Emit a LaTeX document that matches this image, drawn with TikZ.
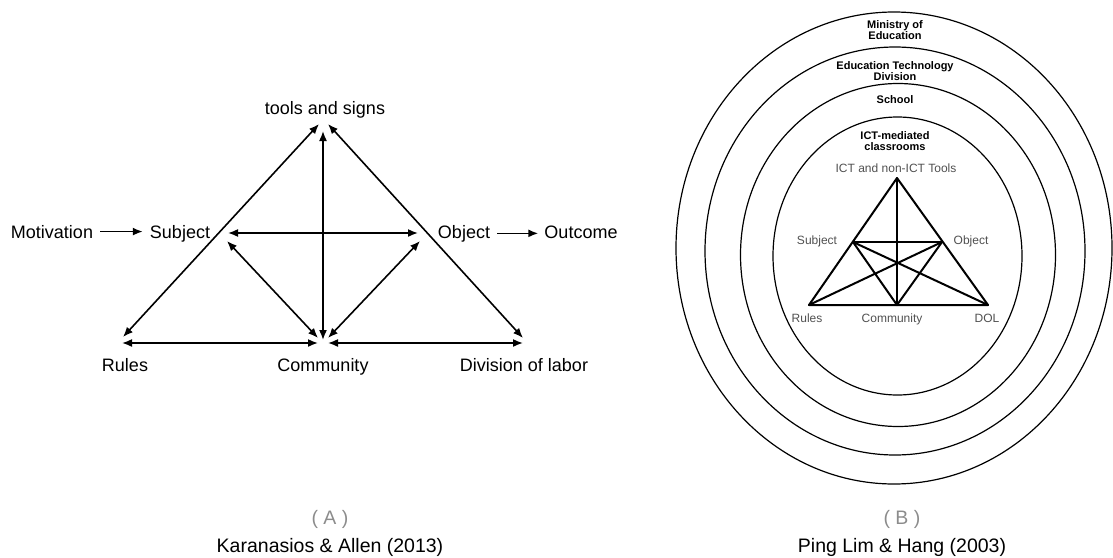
\documentclass[tikz,border=0pt]{standalone}
\usepackage{fontspec}
\setmainfont{Liberation Sans}
\usetikzlibrary{arrows.meta}
\definecolor{labelgray}{HTML}{505050}
\definecolor{capgray}{HTML}{8C8C8C}
\tikzset{
	arr/.style={line width=1.6pt, -{Latex[length=10pt,width=8pt]}},
	darr/.style={line width=1.6pt, {Latex[length=10pt,width=8pt]}-{Latex[length=10pt,width=8pt]}},
	lbl/.style={anchor=base, inner sep=0pt, font=\fontsize{18}{20}\selectfont},
	ring/.style={line width=1.2pt},
	ringlbl/.style={align=center, inner sep=0pt, font=\fontsize{11}{11.5}\selectfont\bfseries},
	tri/.style={line width=2pt, line cap=round, line join=round},
	small/.style={anchor=base, inner sep=0pt, text=labelgray, font=\fontsize{12}{14}\selectfont},
	captxt/.style={anchor=base, inner sep=0pt, font=\fontsize{19.5}{22}\selectfont},
}

\begin{document}
\begin{tikzpicture}[x=1pt, y=-1pt]
		%%%%% START %%%%%
		\useasboundingbox (0, 0) rectangle (1113, 557);
		
		% (A) left triangle
		\node[lbl] (tools) at (325, 114) {tools and signs};
		\node[lbl] (mot) at (52, 238) {Motivation};
		\node[lbl] (subj) at (180, 238) {Subject};
		\node[lbl] (obj) at (464, 238) {Object};
		\node[lbl] (out) at (581, 238) {Outcome};
		\node[lbl] (rules) at (125, 371) {Rules};
		\node[lbl] (comm) at (323, 371) {Community};
		\node[lbl] (dol) at (524, 371) {Division of labor};
		
		\coordinate (topL) at (319, 124);
		\coordinate (topV) at (323, 131);
		\coordinate (topR) at (328, 124);
		\coordinate (rulesA) at (123, 337);
		\coordinate (rulesB) at (122, 343);
		\coordinate (commV) at (323, 340);
		\coordinate (commL) at (318, 338);
		\coordinate (commR) at (328, 338);
		\coordinate (commBL) at (318, 343);
		\coordinate (commBR) at (328, 343);
		\coordinate (dolA) at (523, 338);
		\coordinate (dolB) at (523, 343);
		\coordinate (subjH) at (228, 233);
		\coordinate (subjD) at (227, 241);
		\coordinate (objH) at (418, 233);
		\coordinate (objD) at (420, 241);
		
		\draw[arr] ([xshift=7pt]mot.east) -- ([xshift=-7pt]mot.east -| subj.west);
		\draw[arr] ([xshift=7pt]obj.east) -- ([xshift=-6pt]obj.east -| out.west);
		
		\draw[darr] (rulesA) -- (topL);
		\draw[darr] (topR) -- (dolA);
		\draw[darr] (topV) -- (commV);
		\draw[darr] (subjH) -- (objH);
		\draw[darr] (subjD) -- (commL);
		\draw[darr] (objD) -- (commR);
		\draw[darr] (rulesB) -- (commBL);
		\draw[darr] (commBR) -- (dolB);
		
		\node[captxt, text=capgray] (capA) at (330, 524) {( A )};
		\node[captxt] (refA) at (330, 552) {Karanasios \& Allen (2013)};
		
		% (B) nested rings
		\draw[ring] (894, 248) ellipse [x radius=218pt, y radius=236pt];
		\draw[ring] (895, 251) ellipse [x radius=190pt, y radius=204pt];
		\draw[ring] (898, 255) ellipse [x radius=157.5pt, y radius=171.5pt];
		\draw[ring] (897.5, 256) ellipse [x radius=124.5pt, y radius=139pt];
		
		\node[ringlbl] (ministry) at (895, 30) {Ministry of\\Education};
		\node[ringlbl] (etd) at (895, 71) {Education Technology\\Division};
		\node[ringlbl] (school) at (895, 100) {School};
		\node[ringlbl] (class) at (895, 141) {ICT-mediated\\classrooms};
		
		\coordinate (tI) at (897, 178);
		\coordinate (tS) at (853, 242);
		\coordinate (tO) at (942, 242);
		\coordinate (tR) at (809, 305);
		\coordinate (tC) at (897, 305);
		\coordinate (tD) at (988, 305);
		
		\draw[tri] (tI) -- (tR) -- (tD) -- cycle;
		\draw[tri] (tI) -- (tC);
		\draw[tri] (tS) -- (tO);
		\draw[tri] (tS) -- (tC) -- (tO);
		\draw[tri] (tS) -- (tD);
		\draw[tri] (tO) -- (tR);
		
		\node[small] (tools2) at (896, 172) {ICT and non-ICT Tools};
		\node[small] (subj2) at (817, 244) {Subject};
		\node[small] (obj2) at (971, 244) {Object};
		\node[small] (rules2) at (807, 322) {Rules};
		\node[small] (comm2) at (892, 322) {Community};
		\node[small] (dol2) at (987, 322) {DOL};
		
		\node[captxt, text=capgray] (capB) at (902, 524) {( B )};
		\node[captxt] (refB) at (902, 552) {Ping Lim \& Hang (2003)};
		
		%%%%% END %%%%%
	\end{tikzpicture}
\end{document}
